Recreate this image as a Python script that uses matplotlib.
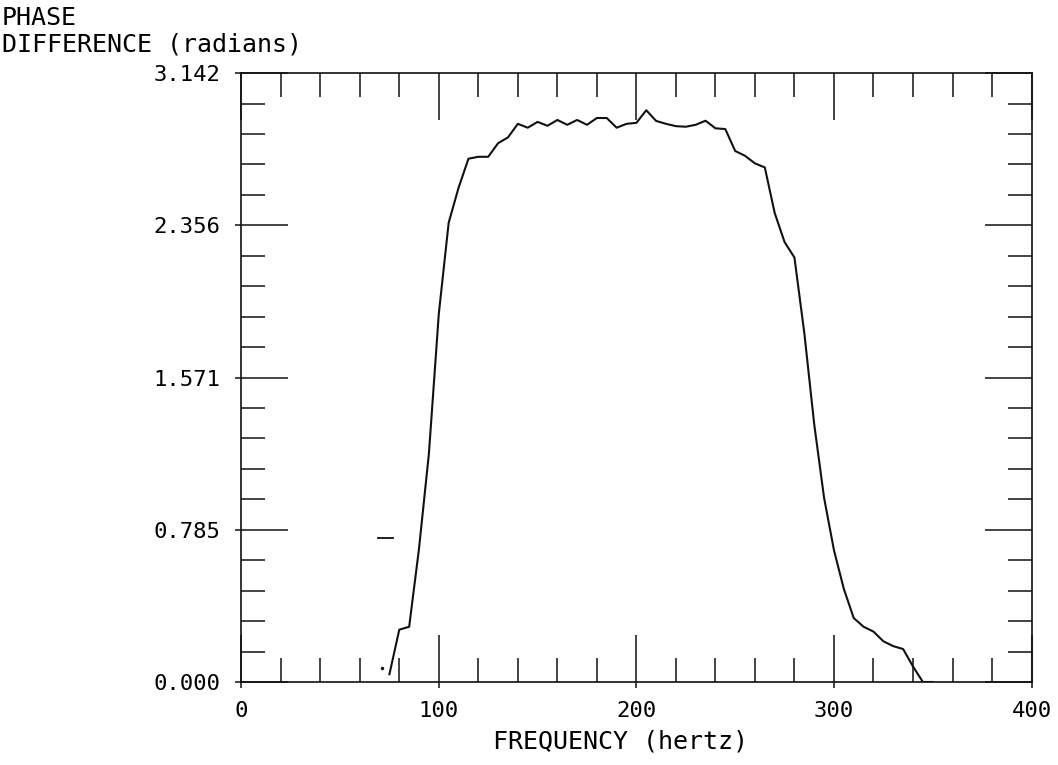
import numpy as np
import matplotlib.pyplot as plt
from matplotlib.ticker import MultipleLocator, FixedLocator

# phase difference, every 5 Hz
freq = [75, 80, 85, 90, 95, 100, 105, 110, 115, 120, 125, 130, 135, 140, 145,
        150, 155, 160, 165, 170, 175, 180, 185, 190, 195, 200, 205, 210, 215,
        220, 225, 230, 235, 240, 245, 250, 255, 260, 265, 270, 275, 280, 285,
        290, 295, 300, 305, 310, 315, 320, 325, 330, 335, 340, 345, 350]
phase = [0.04, 0.27, 0.285, 0.69, 1.18, 1.90, 2.37, 2.55, 2.70, 2.71, 2.71,
         2.78, 2.81, 2.88, 2.86, 2.89, 2.87, 2.90, 2.875, 2.90, 2.875, 2.91,
         2.91, 2.86, 2.88, 2.885, 2.95, 2.895, 2.88, 2.868, 2.865, 2.875,
         2.896, 2.857, 2.853, 2.74, 2.715, 2.676, 2.655, 2.42, 2.27, 2.19,
         1.80, 1.33, 0.95, 0.68, 0.48, 0.33, 0.285, 0.26, 0.21, 0.185, 0.17,
         0.08, 0.0, 0.0]

# stray pen marks on the original plot
dash_f = [69, 77]
dash_p = [0.743, 0.743]
dot_f = [71.5]
dot_p = [0.07]

yticks = [0.0, 0.785, 1.571, 2.356, 3.142]
ytick_labels = ["0.000", "0.785", "1.571", "2.356", "3.142"]
xticks = [0, 100, 200, 300, 400]

plt.rcParams['font.family'] = ['DejaVu Sans Mono']
tick_fs = 16
label_fs = 18
ink = "#111111"

fig = plt.figure(figsize=(10.58, 7.65), dpi=100)
pos = [0.228, 0.1085, 0.747, 0.796]
ax = fig.add_axes(pos)

ax.plot(freq, phase, color=ink, lw=1.5)
ax.plot(dash_f, dash_p, color=ink, lw=1.3)
ax.plot(dot_f, dot_p, 'o', color=ink, ms=1.5)

ax.set_xlim(0, 400)
ax.set_ylim(0, 3.142)
ax.set_xticks(xticks)
ax.set_xticklabels([str(v) for v in xticks], fontsize=tick_fs)
ax.set_yticks(yticks)
ax.set_yticklabels(ytick_labels, fontsize=tick_fs)
ax.xaxis.set_minor_locator(MultipleLocator(20))
yminor = []
for a, b in zip(yticks[:-1], yticks[1:]):
    yminor += list(np.linspace(a, b, 6)[1:-1])
ax.yaxis.set_minor_locator(FixedLocator(yminor))

ax.tick_params(which='both', direction='in', top=True, right=True, color=ink,
               width=1.1)
ax.tick_params(which='major', length=34)
ax.tick_params(which='minor', length=17)
ax.tick_params(axis='y', which='major', pad=15)
ax.tick_params(axis='x', which='major', pad=14)
for s in ax.spines.values():
    s.set_linewidth(1.2)
    s.set_color(ink)

# short outward nubs at the major ticks on left and bottom
ax2 = fig.add_axes(pos, frameon=False)
ax2.set_xlim(0, 400)
ax2.set_ylim(0, 3.142)
ax2.set_xticks(xticks)
ax2.set_yticks(yticks)
ax2.set_xticklabels([])
ax2.set_yticklabels([])
ax2.tick_params(direction='out', length=4.5, width=1.1, color=ink)
ax2.patch.set_visible(False)

ax.set_xlabel("FREQUENCY (hertz)", fontsize=label_fs)
ax.xaxis.set_label_coords(0.48, -0.078)
fig.text(0.002, 0.992, "PHASE\nDIFFERENCE (radians)", fontsize=label_fs,
         ha='left', va='top', linespacing=1.1)

fig.savefig("out.png", dpi=100)
